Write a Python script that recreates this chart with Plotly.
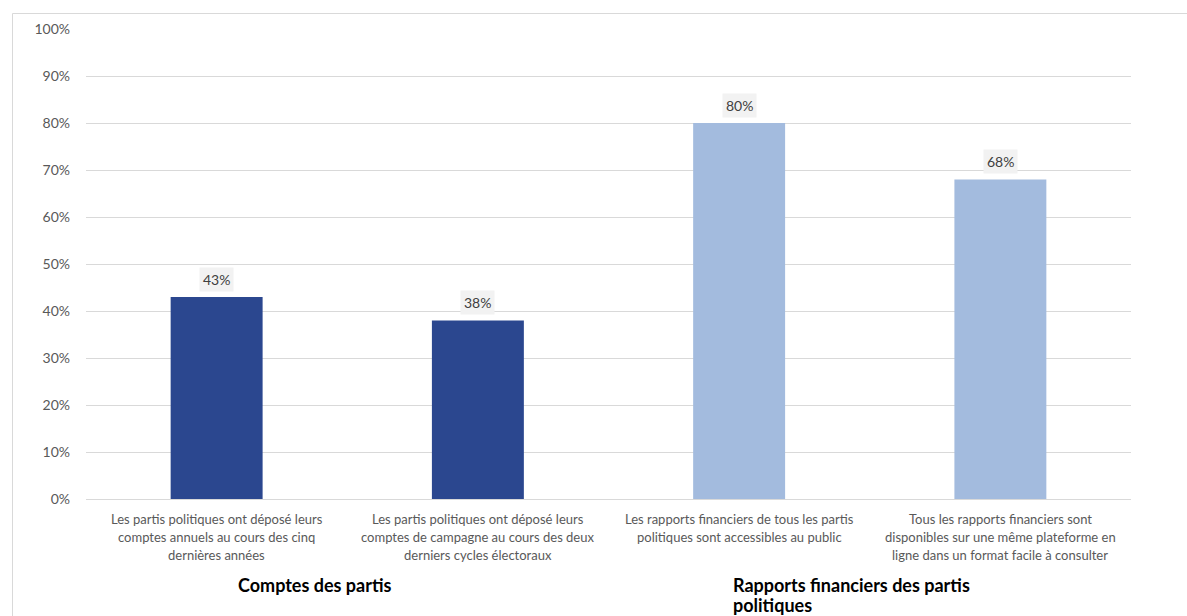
import plotly.graph_objects as go

# Survey indicators (share of countries meeting each criterion)
categories = [
    "Les partis politiques ont déposé leurs<br>comptes annuels au cours des cinq<br>dernières années",
    "Les partis politiques ont déposé leurs<br>comptes de campagne au cours des deux<br>derniers cycles électoraux",
    "Les rapports financiers de tous les partis<br>politiques sont accessibles au public",
    "Tous les rapports financiers sont<br>disponibles sur une même plateforme en<br>ligne dans un format facile à consulter",
]
values = [43, 38, 80, 68]
groups = ["Comptes des partis", "Rapports financiers des partis<br>politiques"]
bar_colors = ["#2B478F", "#2B478F", "#A3BBDE", "#A3BBDE"]
y_ticks = [0, 10, 20, 30, 40, 50, 60, 70, 80, 90, 100]

FONT = "Lato, 'Noto Sans', sans-serif"
x = list(range(len(categories)))

fig = go.Figure(
    go.Bar(
        x=x,
        y=values,
        marker=dict(color=bar_colors, line=dict(width=0)),
        width=0.352,
        hoverinfo="skip",
    )
)

annotations = []
# value labels on grey boxes above each bar
for xi, v in zip(x, values):
    annotations.append(dict(
        x=xi, y=v, xref="x", yref="y", text=f"{v}%", showarrow=False,
        yanchor="bottom", yshift=5, bgcolor="#F2F2F2", borderpad=3,
        font=dict(family=FONT, size=14, color="#404040"),
    ))

# category labels, one annotation per line
for xi, cat in zip(x, categories):
    for i, line in enumerate(cat.split("<br>")):
        annotations.append(dict(
            x=xi, y=0, xref="x", yref="paper", text=line, showarrow=False,
            yanchor="middle", yshift=-20 - 18 * i,
            font=dict(family=FONT, size=13, color="#595959"),
        ))

# group labels
annotations.append(dict(
    x=0.5, y=0, xref="x", yref="paper", text=f"<b>{groups[0]}</b>", showarrow=False,
    xanchor="center", yanchor="middle", yshift=-86, xshift=-32,
    font=dict(family=FONT, size=18, color="#000000"),
))
for i, line in enumerate(groups[1].split("<br>")):
    annotations.append(dict(
        x=2.5, y=0, xref="x", yref="paper", text=f"<b>{line}</b>", showarrow=False,
        xanchor="left", yanchor="middle", yshift=-86 - 20 * i, xshift=-139,
        font=dict(family=FONT, size=18, color="#000000"),
    ))

fig.update_layout(
    width=1187,
    height=616,
    margin=dict(l=86, r=56, t=29, b=117),
    paper_bgcolor="white",
    plot_bgcolor="white",
    showlegend=False,
    bargap=0.648,
    annotations=annotations,
    xaxis=dict(
        range=[-0.5, 3.5], showticklabels=False, showgrid=False, zeroline=False,
        showline=True, linecolor="#D9D9D9", linewidth=1, fixedrange=True,
    ),
    yaxis=dict(
        range=[0, 100], tickvals=y_ticks, ticktext=[f"{t}%" for t in y_ticks],
        showgrid=True, gridcolor="#D9D9D9", gridwidth=1, zeroline=False,
        showline=False, ticks="", ticklabelstandoff=15,
        tickfont=dict(family=FONT, size=14, color="#595959"), fixedrange=True,
    ),
    shapes=[dict(
        type="rect", xref="paper", yref="paper",
        x0=(12.5 - 86) / 1045, x1=1.2, y0=-0.4, y1=(499 - 13.5) / 470,
        line=dict(color="#D9D9D9", width=1), fillcolor="rgba(0,0,0,0)", layer="below",
    )],
)

fig.write_html("out.html")
